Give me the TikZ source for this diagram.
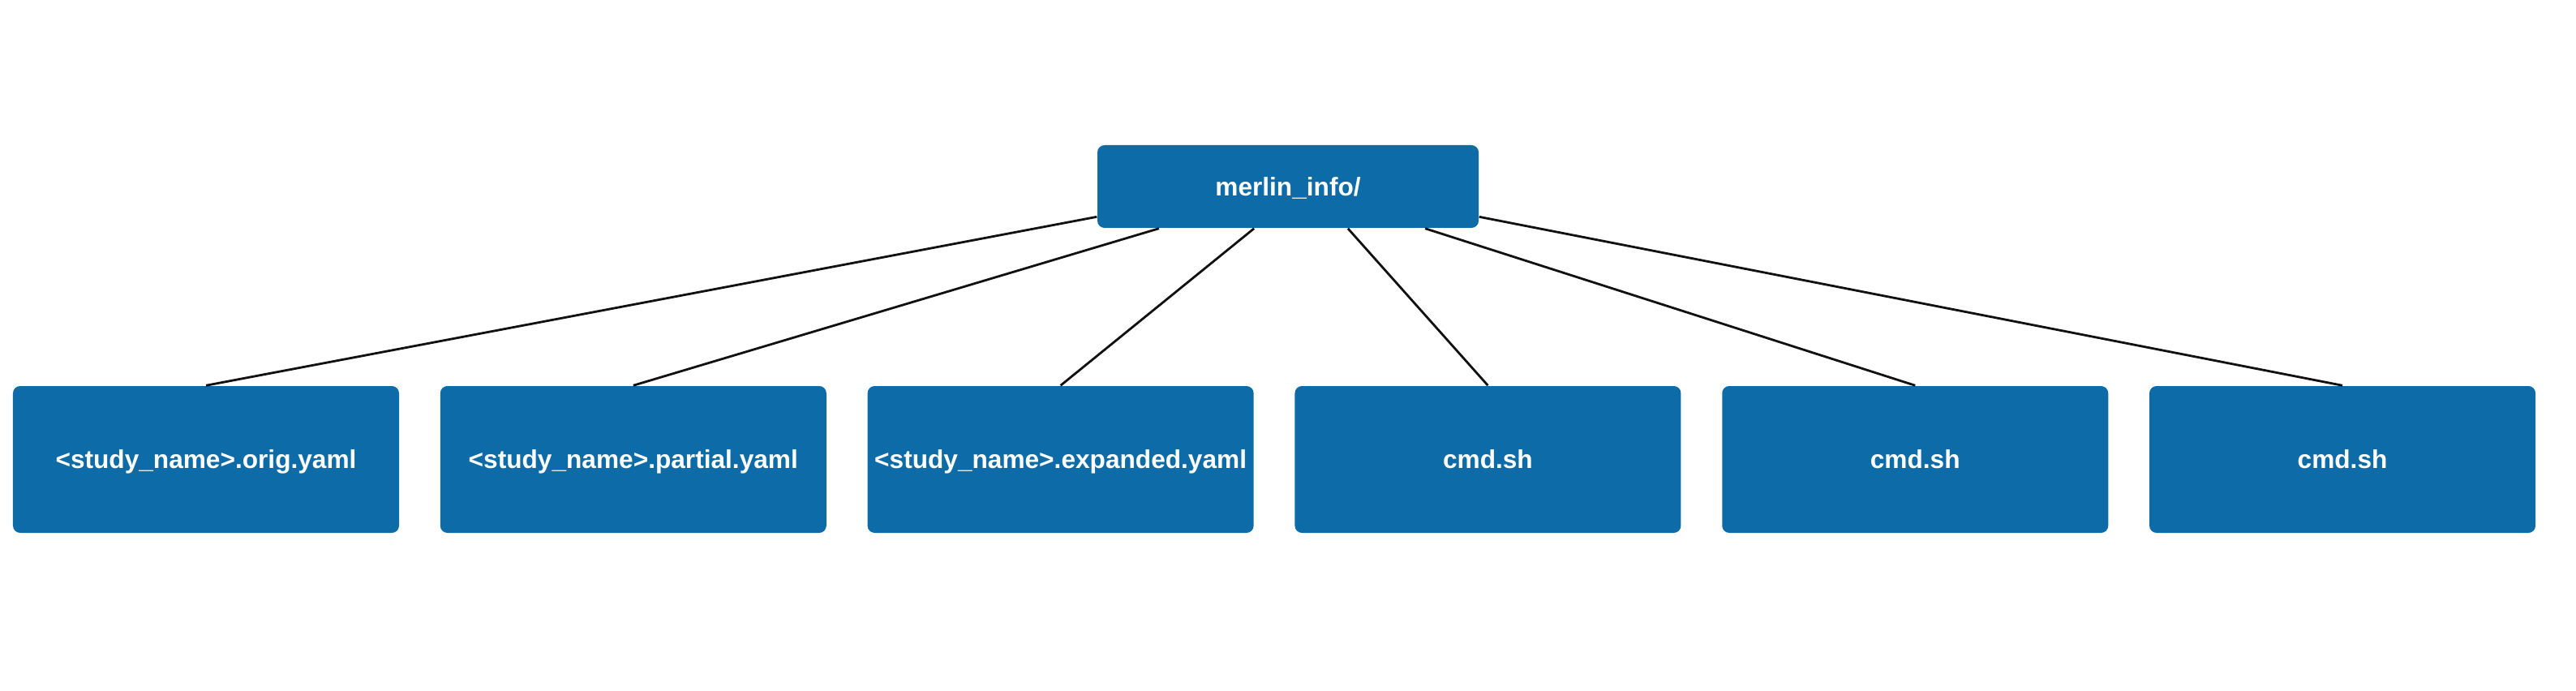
\documentclass[tikz,border=0pt]{standalone}
\usepackage{fontspec}
\setsansfont{Liberation Sans}
\usepackage{tikz}
\usepackage{xcolor}
\usetikzlibrary{
  arrows.meta, calc, positioning
}
\definecolor{dirblue}{HTML}{0D6CA7}
\definecolor{linkdark}{HTML}{111111}
\tikzset{
  % Directory root box
  dirbox/.style={
    draw=none, fill=dirblue, rounded corners=2.5pt,
    minimum height=1.02cm, minimum width=4.70cm,
    font=\fontsize{9}{11}\selectfont\sffamily\bfseries, text=white,
    text height=1.5ex, text depth=0pt, inner sep=2pt,
  },
  % File boxes below it
  filebox/.style={
    draw=none, fill=dirblue, rounded corners=2.5pt,
    minimum height=1.81cm, minimum width=4.76cm,
    font=\fontsize{9}{11}\selectfont\sffamily\bfseries, text=white,
    text height=1.5ex, text depth=0pt, inner sep=2pt,
  },
  % Tree links
  link/.style={line width=0.8pt, linkdark},
}

\begin{document}
\begin{tikzpicture}[node distance=0.494cm]
    \useasboundingbox (0,0) rectangle (31.76,-8.52);
    \node[dirbox] (root) at (15.88,-2.30) {merlin\_info/};
    \node[filebox] (orig) at (2.54,-5.665)
      {<study\_name>.orig.yaml};
    \node[filebox, right=of orig] (partial)
      {<study\_name>.partial.yaml};
    \node[filebox, right=of partial] (expanded)
      {<study\_name>.expanded.yaml};
    \node[filebox, right=of expanded] (cmda) {cmd.sh};
    \node[filebox, right=of cmda] (cmdb) {cmd.sh};
    \node[filebox, right=of cmdb] (cmdc) {cmd.sh};
    \foreach \a/\f in {189.5/orig, 198.9/partial, 231.1/expanded,
                       325/cmda, 343.6/cmdb, 351.4/cmdc}
      \draw[link] (root.\a) -- (\f.north);
  \end{tikzpicture}
\end{document}
